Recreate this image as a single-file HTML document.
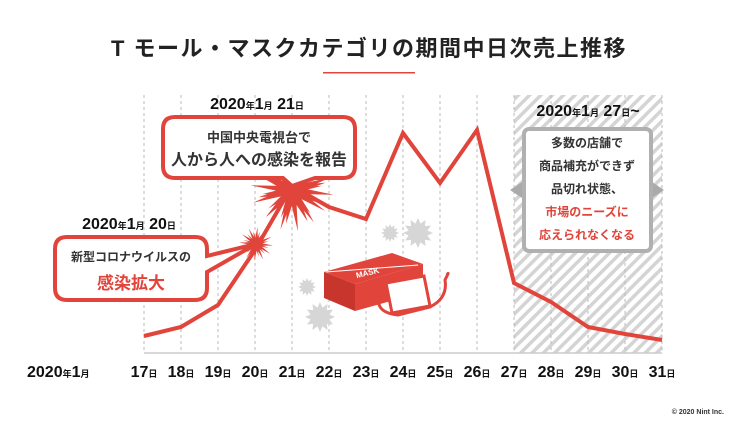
<!DOCTYPE html>
<html><head><meta charset="utf-8"><style>
body{margin:0;background:#fff;}
svg text{font-family:"Liberation Sans","Noto Sans CJK JP",sans-serif;font-weight:bold;}
</style></head><body>
<svg width="739" height="441" viewBox="0 0 739 441" xmlns="http://www.w3.org/2000/svg">
<defs>
<pattern id="hat" width="8" height="8" patternUnits="userSpaceOnUse" patternTransform="rotate(45)">
<rect width="8" height="8" fill="#fff"/><rect width="3.5" height="8" fill="#d4d4d4"/></pattern>
<polygon id="st" points="1,0 .628,.168 .866,.5 .46,.46 .5,.866 .168,.628 0,1 -.168,.628 -.5,.866 -.46,.46 -.866,.5 -.628,.168 -1,0 -.628,-.168 -.866,-.5 -.46,-.46 -.5,-.866 -.168,-.628 0,-1 .168,-.628 .5,-.866 .46,-.46 .866,-.5 .628,-.168"/>
<polygon id="rs" points="1,0 .3,.08 .87,.5 .21,.21 .5,.87 .08,.3 0,1 -.08,.3 -.5,.87 -.21,.21 -.87,.5 -.3,.08 -1,0 -.3,-.08 -.87,-.5 -.21,-.21 -.5,-.87 -.08,-.3 0,-1 .08,-.3 .5,-.87 .21,-.21 .87,-.5 .3,-.08"/>
</defs>
<text x="369" y="56" text-anchor="middle" font-size="22" letter-spacing="1.5" fill="#222">T モール・マスクカテゴリの期間中日次売上推移</text>
<rect x="323" y="72" width="92" height="1.5" fill="#e0443a"/>
<rect x="514" y="95" width="148" height="258" fill="url(#hat)"/>
<g stroke="#bbb" stroke-dasharray="3,3" stroke-width="1">
<line x1="144" y1="95" x2="144" y2="353"/><line x1="181" y1="95" x2="181" y2="353"/><line x1="218" y1="95" x2="218" y2="353"/><line x1="255" y1="95" x2="255" y2="353"/><line x1="292" y1="95" x2="292" y2="353"/><line x1="329" y1="95" x2="329" y2="353"/><line x1="366" y1="95" x2="366" y2="353"/><line x1="403" y1="95" x2="403" y2="353"/><line x1="440" y1="95" x2="440" y2="353"/><line x1="477" y1="95" x2="477" y2="353"/><line x1="514" y1="95" x2="514" y2="353"/><line x1="551" y1="95" x2="551" y2="353"/><line x1="588" y1="95" x2="588" y2="353"/><line x1="625" y1="95" x2="625" y2="353"/><line x1="662" y1="95" x2="662" y2="353"/>
</g>
<line x1="144" y1="353" x2="662" y2="353" stroke="#ccc" stroke-width="1.5"/>
<g fill="#d6d6d6">
<use href="#st" transform="translate(390,233) scale(9)"/>
<use href="#st" transform="translate(418,233) scale(15)"/>
<use href="#st" transform="translate(307,287) scale(9)"/>
<use href="#st" transform="translate(320,317) scale(15)"/>
</g>
<polyline points="144,336 181,327 218,305 255,250 292,186 329,207 366,219 403,133 440,183 477,130 514,283 551,302 588,327 625,334 662,340" fill="none" stroke="#e0443a" stroke-width="4"/>
<g fill="#e0443a">
<use href="#rs" transform="translate(292,190) scale(42,34) rotate(8)"/>
<use href="#rs" transform="translate(292,190) scale(34,42) rotate(-10)"/>
<use href="#rs" transform="translate(292,190) scale(30) rotate(22)"/>
<use href="#rs" transform="translate(256,244) scale(17) rotate(5)"/>
<use href="#rs" transform="translate(256,244) scale(13) rotate(-12)"/>
</g>
<path d="M175,117 H343 Q355,117 355,129 V166 Q355,178 343,178 H315 L292,186 L283,178 H175 Q163,178 163,166 V129 Q163,117 175,117 Z" fill="#fff" stroke="#e0443a" stroke-width="4"/>
<text x="259" y="142" text-anchor="middle" font-size="13" fill="#333">中国中央電視台で</text>
<text x="259" y="165" text-anchor="middle" font-size="16" fill="#333">人から人への感染を報告</text>
<text x="257" y="109" text-anchor="middle" font-size="16" fill="#111">2020<tspan font-size="9">年</tspan>1<tspan font-size="9">月</tspan> 21<tspan font-size="9">日</tspan></text>
<path d="M67,237 H195 Q207,237 207,249 V256 L256,244 L207,272 V288 Q207,300 195,300 H67 Q55,300 55,288 V249 Q55,237 67,237 Z" fill="#fff" stroke="#e0443a" stroke-width="4"/>
<text x="131" y="261" text-anchor="middle" font-size="12" fill="#333">新型コロナウイルスの</text>
<text x="131" y="289" text-anchor="middle" font-size="17" fill="#e0443a">感染拡大</text>
<text x="129" y="229" text-anchor="middle" font-size="16" fill="#111">2020<tspan font-size="9">年</tspan>1<tspan font-size="9">月</tspan> 20<tspan font-size="9">日</tspan></text>
<g>
<polygon points="324,272 392,253 423,264 355,284" fill="#e0443a"/>
<polygon points="324,272 355,284 355,311 324,298" fill="#c8352c"/>
<polygon points="355,284 423,264 423,292 355,311" fill="#e0443a"/>
<line x1="326" y1="272" x2="418" y2="265" stroke="#fff" stroke-width="1"/>
<text x="355" y="276" font-size="8" fill="#fff" transform="rotate(-14 365 270)">MASK</text>
<path d="M382,288 Q370,312 398,315 L430,307 Q448,298 445,280 Q450,270 447,275" fill="none" stroke="#e0443a" stroke-width="3"/>
<polygon points="386,283 424,276 430,306 392,313" fill="#fff" stroke="#e0443a" stroke-width="3"/>
</g>
<polygon points="522,182 510,190 522,198" fill="#aaa"/>
<polygon points="652,182 664,190 652,198" fill="#aaa"/>
<rect x="524" y="129" width="127" height="122" rx="5" fill="#fff" stroke="#b0b0b0" stroke-width="4"/>
<text x="587" y="147" text-anchor="middle" font-size="12" fill="#333">多数の店舗で</text>
<text x="587" y="170" text-anchor="middle" font-size="12" fill="#333">商品補充ができず</text>
<text x="587" y="193" text-anchor="middle" font-size="12" fill="#333">品切れ状態、</text>
<text x="587" y="216" text-anchor="middle" font-size="12" fill="#e0443a">市場のニーズに</text>
<text x="587" y="239" text-anchor="middle" font-size="12" fill="#e0443a">応えられなくなる</text>
<text x="588" y="116" text-anchor="middle" font-size="16" fill="#111">2020<tspan font-size="9">年</tspan>1<tspan font-size="9">月</tspan> 27<tspan font-size="9">日</tspan>~</text>
<g font-size="16" fill="#111">
<text x="27" y="377">2020<tspan font-size="9">年</tspan>1<tspan font-size="9">月</tspan></text>
<text x="144" y="377" text-anchor="middle">17<tspan font-size="9">日</tspan></text>
<text x="181" y="377" text-anchor="middle">18<tspan font-size="9">日</tspan></text>
<text x="218" y="377" text-anchor="middle">19<tspan font-size="9">日</tspan></text>
<text x="255" y="377" text-anchor="middle">20<tspan font-size="9">日</tspan></text>
<text x="292" y="377" text-anchor="middle">21<tspan font-size="9">日</tspan></text>
<text x="329" y="377" text-anchor="middle">22<tspan font-size="9">日</tspan></text>
<text x="366" y="377" text-anchor="middle">23<tspan font-size="9">日</tspan></text>
<text x="403" y="377" text-anchor="middle">24<tspan font-size="9">日</tspan></text>
<text x="440" y="377" text-anchor="middle">25<tspan font-size="9">日</tspan></text>
<text x="477" y="377" text-anchor="middle">26<tspan font-size="9">日</tspan></text>
<text x="514" y="377" text-anchor="middle">27<tspan font-size="9">日</tspan></text>
<text x="551" y="377" text-anchor="middle">28<tspan font-size="9">日</tspan></text>
<text x="588" y="377" text-anchor="middle">29<tspan font-size="9">日</tspan></text>
<text x="625" y="377" text-anchor="middle">30<tspan font-size="9">日</tspan></text>
<text x="662" y="377" text-anchor="middle">31<tspan font-size="9">日</tspan></text>
</g>
<text x="724" y="414" text-anchor="end" font-size="7" font-weight="normal" fill="#333">© 2020 Nint Inc.</text>
</svg>
</body></html>
